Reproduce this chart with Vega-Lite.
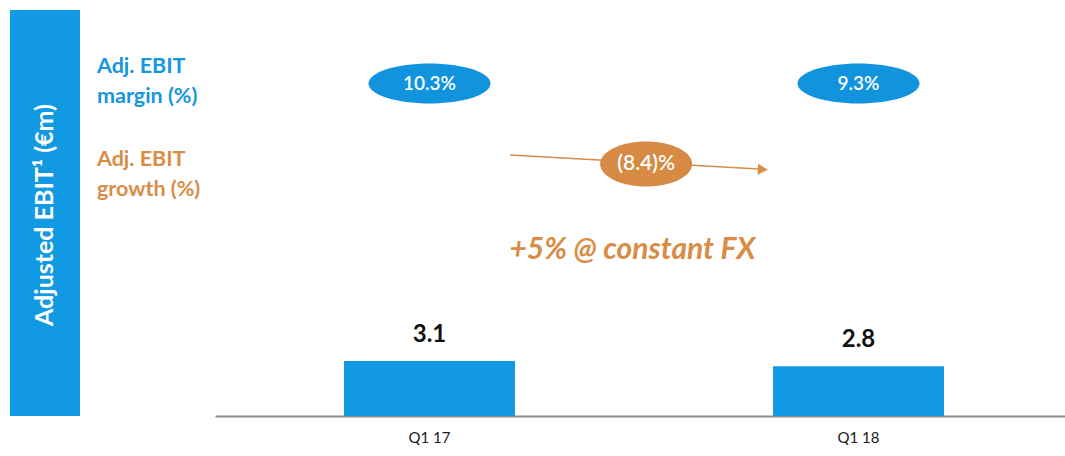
{
  "$schema": "https://vega.github.io/schema/vega-lite/v6.json",
  "padding": {"left": 0, "top": 10, "right": 0, "bottom": 0},
  "background": "white",
  "config": {
    "view": {"stroke": null},
    "font": "Lato",
    "text": {"font": "Lato"}
  },
  "spacing": 0,
  "hconcat": [
    {
      "width": 215,
      "height": 406,
      "data": {"values": [{}]},
      "layer": [
        {
          "mark": {"type": "rect", "color": "#1199e3"},
          "encoding": {
            "x": {"datum": 0.0465, "type": "quantitative", "scale": {"domain": [0, 1], "nice": false}, "axis": null},
            "x2": {"datum": 0.372},
            "y": {"datum": 0, "type": "quantitative", "scale": {"domain": [0, 1], "nice": false}, "axis": null},
            "y2": {"datum": 1}
          }
        },
        {
          "mark": {"type": "text", "text": "Adjusted EBIT¹ (€m)", "angle": 270, "color": "white", "fontWeight": "bold", "fontSize": 25, "align": "center", "baseline": "middle"},
          "encoding": {
            "x": {"datum": 0.209, "type": "quantitative"},
            "y": {"datum": 0.495, "type": "quantitative"}
          }
        },
        {
          "mark": {"type": "text", "text": ["Adj. EBIT", "margin (%)"], "lineHeight": 30, "color": "#1596de", "fontWeight": "bold", "fontSize": 21.5, "align": "left", "baseline": "middle"},
          "encoding": {
            "x": {"datum": 0.451, "type": "quantitative"},
            "y": {"datum": 0.86, "type": "quantitative"}
          }
        },
        {
          "mark": {"type": "text", "text": ["Adj. EBIT", "growth (%)"], "lineHeight": 30, "color": "#d98c45", "fontWeight": "bold", "fontSize": 21.5, "align": "left", "baseline": "middle"},
          "encoding": {
            "x": {"datum": 0.451, "type": "quantitative"},
            "y": {"datum": 0.631, "type": "quantitative"}
          }
        }
      ]
    },
    {
      "width": 850,
      "height": 406,
      "layer": [
        {
          "data": {"values": [
            {"period": "Q1 17", "ebit": 3.1, "margin": 10.3},
            {"period": "Q1 18", "ebit": 2.8, "margin": 9.3}
          ]},
          "transform": [{"calculate": "format(datum.margin, '.1f') + '%'", "as": "marginLabel"}],
          "encoding": {
            "x": {
              "field": "period", "type": "nominal", "sort": null,
              "scale": {"paddingInner": 0.6014, "paddingOuter": 0.2913, "align": 0.516},
              "axis": {"title": null, "labelAngle": 0, "ticks": false, "domainColor": "#8c8c8c", "domainWidth": 2, "labelFontSize": 15, "labelColor": "#1a1a1a", "labelPadding": 14, "labelFont": "Lato"}
            }
          },
          "layer": [
            {
              "mark": {"type": "bar", "color": "#1199e3"},
              "encoding": {
                "y": {"field": "ebit", "type": "quantitative", "scale": {"domain": [0, 22.9], "nice": false}, "axis": null}
              }
            },
            {
              "mark": {"type": "text", "fontWeight": "bold", "fontSize": 24, "color": "#111111", "baseline": "bottom", "dy": -14},
              "encoding": {
                "y": {"field": "ebit", "type": "quantitative"},
                "text": {"field": "ebit", "type": "quantitative", "format": ".1f"}
              }
            },
            {
              "mark": {"type": "point", "filled": true, "opacity": 1, "color": "#1193de", "size": 14884, "shape": "M-1,0A1,0.328,0,1,1,1,0A1,0.328,0,1,1,-1,0Z"},
              "encoding": {
                "y": {"datum": 18.75, "type": "quantitative"}
              }
            },
            {
              "mark": {"type": "text", "fontSize": 19, "color": "white", "fontWeight": 600, "align": "center", "baseline": "middle"},
              "encoding": {
                "y": {"datum": 18.75, "type": "quantitative"},
                "text": {"field": "marginLabel", "type": "nominal"}
              }
            }
          ]
        },
        {
          "data": {"values": [{"growth": -8.4, "growthFx": 5}]},
          "transform": [
            {"calculate": "datum.growth < 0 ? '(' + format(-datum.growth, '.1f') + ')%' : format(datum.growth, '.1f') + '%'", "as": "growthLabel"},
            {"calculate": "'+' + format(datum.growthFx, 'd') + '% @ constant FX'", "as": "fxLabel"}
          ],
          "layer": [
            {
              "mark": {"type": "rule", "color": "#d98c45", "strokeWidth": 1.6},
              "encoding": {
                "x": {"datum": 0.1876, "type": "quantitative", "scale": {"domain": [-0.5, 1.4814], "nice": false, "zero": false}, "axis": null},
                "x2": {"datum": 0.768},
                "y": {"datum": 14.72, "type": "quantitative"},
                "y2": {"datum": 13.93}
              }
            },
            {
              "mark": {"type": "point", "filled": true, "opacity": 1, "color": "#d98c45", "size": 100, "angle": 3.3, "shape": "M-1,-1.1L1,0L-1,1.1Z"},
              "encoding": {
                "x": {"datum": 0.777, "type": "quantitative"},
                "y": {"datum": 13.9, "type": "quantitative"}
              }
            },
            {
              "mark": {"type": "point", "filled": true, "opacity": 1, "color": "#d68a44", "size": 8464, "shape": "M-1,0A1,0.49,0,1,1,1,0A1,0.49,0,1,1,-1,0Z"},
              "encoding": {
                "x": {"datum": 0.505, "type": "quantitative"},
                "y": {"datum": 14.21, "type": "quantitative"}
              }
            },
            {
              "mark": {"type": "text", "fontSize": 21, "color": "white", "fontWeight": 600, "align": "center", "baseline": "middle"},
              "encoding": {
                "x": {"datum": 0.505, "type": "quantitative"},
                "y": {"datum": 14.21, "type": "quantitative"},
                "text": {"field": "growthLabel", "type": "nominal"}
              }
            },
            {
              "mark": {"type": "text", "fontSize": 30, "color": "#d98c45", "fontWeight": "bold", "fontStyle": "italic", "align": "center", "baseline": "middle"},
              "encoding": {
                "x": {"datum": 0.473, "type": "quantitative"},
                "y": {"datum": 9.36, "type": "quantitative"},
                "text": {"field": "fxLabel", "type": "nominal"}
              }
            }
          ]
        }
      ],
      "resolve": {"scale": {"x": "independent"}}
    }
  ]
}
